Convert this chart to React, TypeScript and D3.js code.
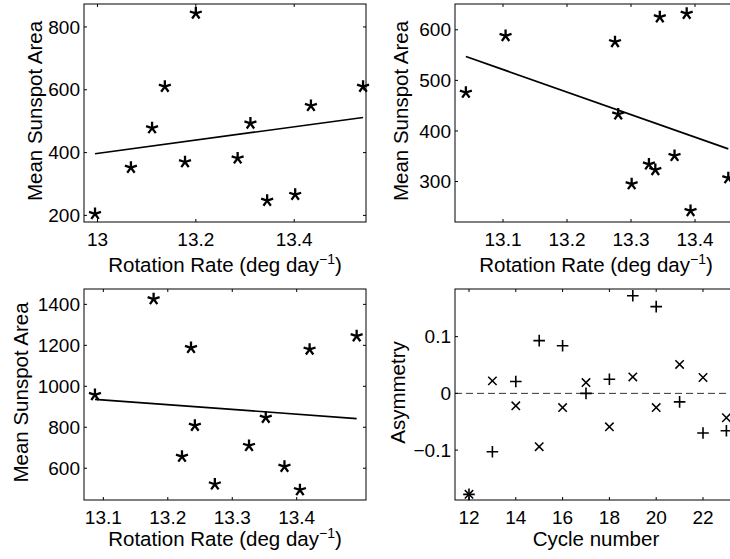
import React from 'react';
import * as d3 from 'd3';

// ---------- data ----------
const p1Rate = [12.995, 13.068, 13.111, 13.137, 13.2, 13.178, 13.285, 13.311, 13.345, 13.402, 13.434, 13.54];
const p1Area = [205, 352, 478, 610, 843, 370, 382, 493, 247, 266, 549, 610];

const p2Rate = [13.042, 13.104, 13.275, 13.28, 13.345, 13.387, 13.328, 13.338, 13.301, 13.368, 13.393, 13.452];
const p2Area = [476, 588, 576, 433, 625, 632, 334, 323, 295, 351, 242, 307];

const p3Rate = [13.087, 13.178, 13.236, 13.242, 13.222, 13.273, 13.326, 13.352, 13.381, 13.405, 13.42, 13.493];
const p3Area = [958, 1426, 1188, 808, 657, 522, 710, 847, 608, 494, 1180, 1245];

const cycles = [12, 13, 14, 15, 16, 17, 18, 19, 20, 21, 22, 23];
const asymPlus = [-0.178, -0.103, 0.021, 0.093, 0.084, 0.0, 0.025, 0.172, 0.153, -0.015, -0.07, -0.066];
const asymCross = [-0.178, 0.022, -0.022, -0.094, -0.025, 0.019, -0.059, 0.029, -0.025, 0.051, 0.028, -0.043];

const p1XTicks = [13, 13.2, 13.4];
const p1YTicks = [200, 400, 600, 800];
const p2XTicks = [13.1, 13.2, 13.3, 13.4];
const p2YTicks = [300, 400, 500, 600];
const p3XTicks = [13.1, 13.2, 13.3, 13.4];
const p3YTicks = [600, 800, 1000, 1200, 1400];
const p4XTicks = [12, 14, 16, 18, 20, 22];
const p4YTicks = [-0.1, 0, 0.1];

const rateLabel = 'Rotation Rate (deg day';
const areaLabel = 'Mean Sunspot Area';
const cycleLabel = 'Cycle number';
const asymLabel = 'Asymmetry';

// ---------- style ----------
const FONT = '"Liberation Sans", Arial, Helvetica, sans-serif';
const TICK_FS = 19;
const LABEL_FS = 20.5;
const TICK_LEN = 3;

const fmt = (v: number) => String(+v.toFixed(3)).replace('-', '\u2212');

function fitLine(xs: number[], ys: number[]) {
  const mx = d3.mean(xs) as number;
  const my = d3.mean(ys) as number;
  let sxy = 0, sxx = 0;
  xs.forEach((x, i) => { sxy += (x - mx) * (ys[i] - my); sxx += (x - mx) * (x - mx); });
  const b = sxy / sxx;
  const [x0, x1] = d3.extent(xs) as [number, number];
  return [[x0, my + b * (x0 - mx)], [x1, my + b * (x1 - mx)]];
}

function starPath(cx: number, cy: number, r: number) {
  let d = '';
  for (let k = 0; k < 5; k++) {
    const a = (k * 72 * Math.PI) / 180;
    d += `M${cx},${cy}L${cx + r * Math.sin(a)},${cy - r * Math.cos(a)}`;
  }
  return d;
}
const plusPath = (cx: number, cy: number, r: number) => `M${cx - r},${cy}H${cx + r}M${cx},${cy - r}V${cy + r}`;
const crossPath = (cx: number, cy: number, r: number) =>
  `M${cx - r},${cy - r}L${cx + r},${cy + r}M${cx - r},${cy + r}L${cx + r},${cy - r}`;

type Cfg = {
  left: number; top: number; w: number; h: number;
  xDom: [number, number]; yDom: [number, number];
  xTicks: number[]; yTicks: number[];
  xlab: 'rate' | 'cycle'; ylab: string; ylabX: number; xlabDy: number;
};

function Axes({ cfg, children }: { cfg: Cfg; children: (x: any, y: any) => React.ReactNode }) {
  const x = d3.scaleLinear().domain(cfg.xDom).range([cfg.left, cfg.left + cfg.w]);
  const y = d3.scaleLinear().domain(cfg.yDom).range([cfg.top + cfg.h, cfg.top]);
  const bottom = cfg.top + cfg.h;
  const right = cfg.left + cfg.w;
  const cx = cfg.left + cfg.w / 2;
  const cy = cfg.top + cfg.h / 2;
  return (
    <g>
      {children(x, y)}
      <rect x={cfg.left} y={cfg.top} width={cfg.w} height={cfg.h} fill="none" stroke="#000" strokeWidth={1} />
      {cfg.xTicks.map((t) => (
        <g key={'xt' + t}>
          <line x1={x(t)} x2={x(t)} y1={bottom} y2={bottom - TICK_LEN} stroke="#000" />
          <line x1={x(t)} x2={x(t)} y1={cfg.top} y2={cfg.top + TICK_LEN} stroke="#000" />
          <text x={x(t)} y={bottom + 23.5} textAnchor="middle" fontSize={TICK_FS}>{fmt(t)}</text>
        </g>
      ))}
      {cfg.yTicks.map((t) => (
        <g key={'yt' + t}>
          <line x1={cfg.left} x2={cfg.left + TICK_LEN} y1={y(t)} y2={y(t)} stroke="#000" />
          <line x1={right} x2={right - TICK_LEN} y1={y(t)} y2={y(t)} stroke="#000" />
          <text x={cfg.left - 4} y={y(t)} dy="0.35em" textAnchor="end" fontSize={TICK_FS}>{fmt(t)}</text>
        </g>
      ))}
      {cfg.xlab === 'rate' ? (
        <text x={cx} y={bottom + cfg.xlabDy} textAnchor="middle" fontSize={LABEL_FS}>
          {rateLabel}
          <tspan dy={-8} fontSize={14}>{'\u22121'}</tspan>
          <tspan dy={8}>)</tspan>
        </text>
      ) : (
        <text x={cx} y={bottom + cfg.xlabDy} textAnchor="middle" fontSize={LABEL_FS}>{cycleLabel}</text>
      )}
      <text transform={`translate(${cfg.ylabX},${cy - 2}) rotate(-90)`} textAnchor="middle" fontSize={LABEL_FS}>
        {cfg.ylab}
      </text>
    </g>
  );
}

const cfg1: Cfg = { left: 84, top: 4, w: 282, h: 218, xDom: [12.9726, 13.546], yDom: [179, 873],
  xTicks: p1XTicks, yTicks: p1YTicks, xlab: 'rate', ylab: areaLabel, ylabX: 42, xlabDy: 50 };
const cfg2: Cfg = { left: 455, top: 4, w: 282, h: 218, xDom: [13.025, 13.4656], yDom: [220, 651],
  xTicks: p2XTicks, yTicks: p2YTicks, xlab: 'rate', ylab: areaLabel, ylabX: 408, xlabDy: 50 };
const cfg3: Cfg = { left: 84, top: 289, w: 282, h: 211, xDom: [13.07, 13.5075], yDom: [445, 1475],
  xTicks: p3XTicks, yTicks: p3YTicks, xlab: 'rate', ylab: areaLabel, ylabX: 28, xlabDy: 46 };
const cfg4: Cfg = { left: 455, top: 289, w: 282, h: 211, xDom: [11.402, 23.453], yDom: [-0.188, 0.184],
  xTicks: p4XTicks, yTicks: p4YTicks, xlab: 'cycle', ylab: asymLabel, ylabX: 405, xlabDy: 46 };

function Scatter({ cfg, xs, ys }: { cfg: Cfg; xs: number[]; ys: number[] }) {
  const fit = fitLine(xs, ys);
  return (
    <Axes cfg={cfg}>
      {(x, y) => (
        <g>
          <line x1={x(fit[0][0])} y1={y(fit[0][1])} x2={x(fit[1][0])} y2={y(fit[1][1])} stroke="#000" strokeWidth={1.7} />
          {xs.map((v, i) => (
            <path key={i} d={starPath(x(v), y(ys[i]), 6.3)} stroke="#000" strokeWidth={2.3} fill="none" strokeLinecap="butt" />
          ))}
        </g>
      )}
    </Axes>
  );
}

function AsymPanel({ cfg }: { cfg: Cfg }) {
  return (
    <Axes cfg={cfg}>
      {(x, y) => (
        <g>
          <line x1={cfg.left} x2={cfg.left + cfg.w} y1={y(0)} y2={y(0)} stroke="#333" strokeWidth={1} strokeDasharray="7,4" />
          {cycles.map((c, i) => (
            <path key={'p' + i} d={plusPath(x(c), y(asymPlus[i]), 5.8)} stroke="#000" strokeWidth={1.6} fill="none" />
          ))}
          {cycles.map((c, i) => (
            <path key={'c' + i} d={crossPath(x(c), y(asymCross[i]), 4.2)} stroke="#000" strokeWidth={1.5} fill="none" />
          ))}
        </g>
      )}
    </Axes>
  );
}

export default function App() {
  return (
    <svg width={730} height={559} style={{ position: 'absolute', left: 0, top: 0, background: '#fff' }}
      fontFamily={FONT} fill="#000">
      <rect x={0} y={0} width={730} height={559} fill="#fff" />
      <Scatter cfg={cfg1} xs={p1Rate} ys={p1Area} />
      <Scatter cfg={cfg2} xs={p2Rate} ys={p2Area} />
      <Scatter cfg={cfg3} xs={p3Rate} ys={p3Area} />
      <AsymPanel cfg={cfg4} />
    </svg>
  );
}
